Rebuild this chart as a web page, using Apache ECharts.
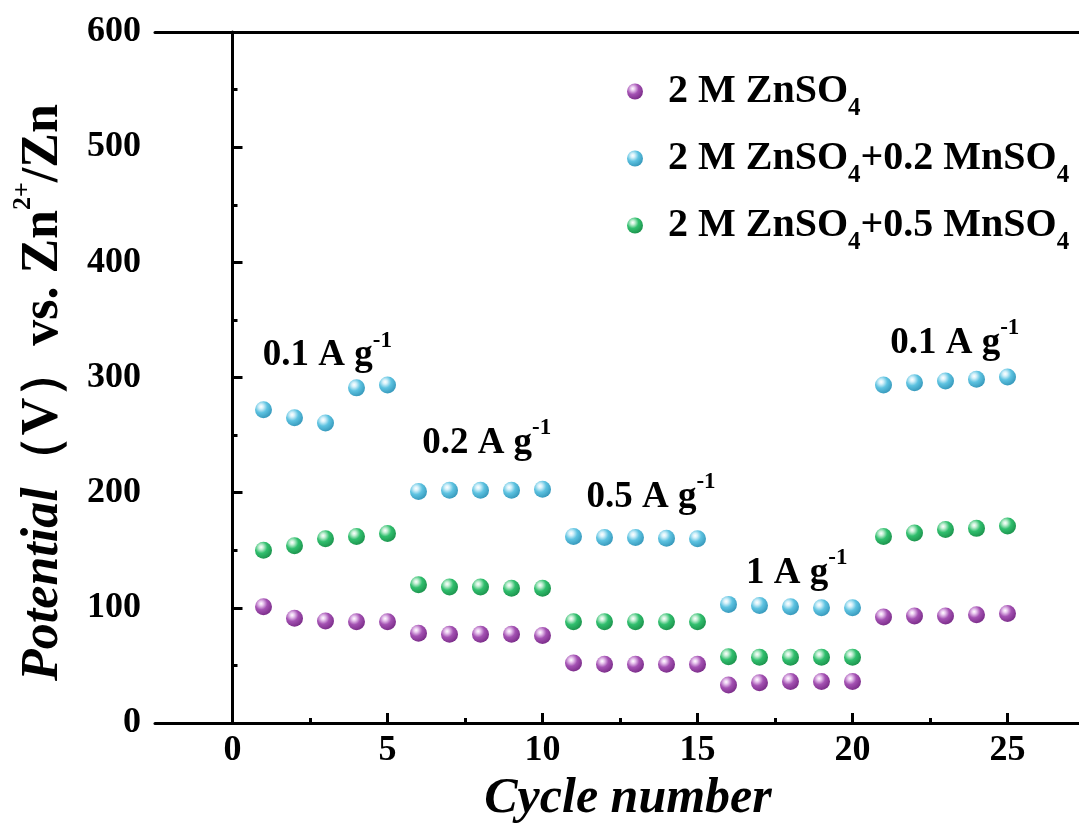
<!DOCTYPE html>
<html>
<head>
<meta charset="utf-8">
<script src="https://cdn.jsdelivr.net/npm/echarts@6/dist/echarts.min.js"></script>
<style>
html,body{margin:0;padding:0;background:#fff;}
#chart{width:1079px;height:825px;}
</style>
</head>
<body>
<div id="chart"></div>
<script>
// ---- data ----
const cycles = [1,2,3,4,5,6,7,8,9,10,11,12,13,14,15,16,17,18,19,20,21,22,23,24,25];
const seriesNames = ['2 M ZnSO4', '2 M ZnSO4+0.2 MnSO4', '2 M ZnSO4+0.5 MnSO4'];
const legendLabels = ['{m|2 M ZnSO}{s|4}', '{m|2 M ZnSO}{s|4}{m|+0.2 MnSO}{s|4}', '{m|2 M ZnSO}{s|4}{m|+0.5 MnSO}{s|4}'];
const znso4 = [101, 91, 88.5, 88, 88, 78, 77, 77, 77, 76, 52, 51, 51, 51, 51, 33, 35, 36, 36, 36, 92, 93, 93, 94, 95];
const mn02 = [272, 265, 260.5, 291, 293.5, 201, 202, 202, 202, 203, 162, 161, 161, 160.5, 160, 103, 102, 101, 100, 100, 293.5, 295.5, 297, 298.5, 300.5];
const mn05 = [150, 154, 160, 162, 164.5, 120, 118, 118, 117, 117, 88, 88, 88, 88, 88, 57.5, 57, 57, 57, 57, 162, 165, 168, 169, 171];
const yTicks = [0, 100, 200, 300, 400, 500, 600];
const xTicks = [0, 5, 10, 15, 20, 25];
const xMinorTicks = [2.5, 7.5, 12.5, 17.5, 22.5, 27.5];
// rate annotations: [cycle, potential, text]
const rateLabels = [
  [3.06, 319, '{m|0.1 A g}{p|-1}'],
  [8.2, 243, '{m|0.2 A g}{p|-1}'],
  [13.5, 196, '{m|0.5 A g}{p|-1}'],
  [18.2, 130, '{m|1 A g}{p|-1}'],
  [23.3, 330, '{m|0.1 A g}{p|-1}']
];

const palette = [
  ['#e9c8ef', '#a452b3', '#7a2c88'],
  ['#d6f1fa', '#5ec3e1', '#3597ba'],
  ['#c6f0d6', '#31bf6e', '#1c924c']
];
function sphere(c){
  return {type:'radial', x:0.36, y:0.32, r:0.72, colorStops:[
    {offset:0, color:'#ffffff'},
    {offset:0.18, color:c[0]},
    {offset:0.5, color:c[1]},
    {offset:1, color:c[2]}
  ]};
}
const FONT = '"Liberation Serif", "Times New Roman", serif';
const dataSets = [znso4, mn02, mn05];

const chart = echarts.init(document.getElementById('chart'), null, {renderer:'canvas'});
const option = {
  animation:false,
  backgroundColor:'#fff',
  grid:{left:155, top:32, width:930, bottom:102, containLabel:false, outerBoundsMode:'none'},
  legend:{
    orient:'vertical', left:622, top:57, itemGap:8,
    itemWidth:16, itemHeight:16, icon:'circle',
    data:seriesNames,
    formatter:function(name){ return legendLabels[seriesNames.indexOf(name)]; },
    textStyle:{
      padding:[0,0,0,20],
      rich:{
        m:{fontFamily:FONT, fontWeight:'bold', fontSize:40, color:'#000', lineHeight:40},
        s:{fontFamily:FONT, fontWeight:'bold', fontSize:25, color:'#000', lineHeight:22, padding:[34,0,0,0]}
      }
    }
  },
  xAxis:[
    {
      type:'value', min:-2.5, max:27.5, interval:2.5, position:'bottom',
      name:'Cycle number', nameLocation:'middle', nameGap:50,
      nameTextStyle:{fontFamily:FONT, fontWeight:'bold', fontStyle:'italic', fontSize:50, color:'#000', padding:[0,0,0,16]},
      axisLine:{show:true, lineStyle:{color:'#000', width:3}},
      axisTick:{show:true, inside:true, length:10, lineStyle:{color:'#000', width:3}, customValues:xTicks},
      axisLabel:{margin:10, fontFamily:FONT, fontWeight:'bold', fontSize:36, color:'#000', customValues:xTicks},
      splitLine:{show:false}
    },
    {
      type:'value', min:-2.5, max:27.5, position:'top',
      axisLine:{show:true, lineStyle:{color:'#000', width:3}},
      axisTick:{show:false}, axisLabel:{show:false}, splitLine:{show:false}
    },
    {
      type:'value', min:-2.5, max:27.5, position:'bottom', offset:0,
      axisLine:{show:false},
      axisTick:{show:true, inside:true, length:5, lineStyle:{color:'#000', width:3}, customValues:xMinorTicks},
      axisLabel:{show:false}, splitLine:{show:false}
    }
  ],
  yAxis:[
    {
      type:'value', min:0, max:600, interval:100,
      name:'{i|Potential}{n|（V）vs. Zn}{p|2+}{n|/Zn}',
      nameLocation:'middle', nameGap:84, nameRotate:90,
      nameTextStyle:{
        padding:[0,30,0,0],
        rich:{
          i:{fontFamily:FONT, fontWeight:'bold', fontStyle:'italic', fontSize:52, color:'#000', lineHeight:54},
          n:{fontFamily:FONT, fontWeight:'bold', fontSize:52, color:'#000', lineHeight:54},
          p:{fontFamily:FONT, fontWeight:'bold', fontSize:26, color:'#000', lineHeight:26, padding:[0,0,40,0]}
        }
      },
      axisLine:{show:true, lineStyle:{color:'#000', width:3}},
      axisTick:{show:true, inside:true, length:10, lineStyle:{color:'#000', width:3}},
      minorTick:{show:true, splitNumber:2, length:5, lineStyle:{color:'#000', width:3}},
      axisLabel:{margin:14, fontFamily:FONT, fontWeight:'bold', fontSize:36, color:'#000'},
      splitLine:{show:false}
    }
  ],
  series: seriesNames.map(function(n, k){
    return {
      name:n, type:'scatter', symbol:'circle', symbolSize:17,
      itemStyle:{color:sphere(palette[k]), opacity:1},
      data: cycles.map(function(c, i){ return [c, dataSets[k][i]]; }),
      z: 3
    };
  }).concat([{
    name:'rates', type:'custom', silent:true,
    data: rateLabels,
    encode:{x:0, y:1},
    renderItem:function(params, api){
      const pt = api.coord([api.value(0), api.value(1)]);
      const txt = rateLabels[params.dataIndex][2];
      return {
        type:'text', x:pt[0], y:pt[1],
        style:{
          text:txt, fill:'#000', opacity:1, align:'center', verticalAlign:'middle',
          rich:{
            m:{fontFamily:FONT, fontWeight:'bold', fontSize:37, fill:'#000', lineHeight:40},
            p:{fontFamily:FONT, fontWeight:'bold', fontSize:23, fill:'#000', lineHeight:22, padding:[0,0,30,0]}
          }
        }
      };
    },
    z: 4
  }])
};
chart.setOption(option);
</script>
</body>
</html>
